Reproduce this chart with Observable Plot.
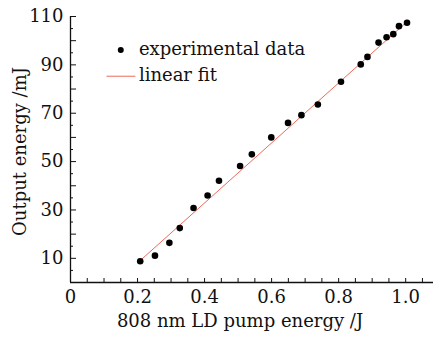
<!DOCTYPE html>
<html><head><meta charset="utf-8">
<script src="https://cdn.jsdelivr.net/npm/d3@7"></script>
<script src="https://cdn.jsdelivr.net/npm/@observablehq/plot@0.6"></script>
<style>
body{margin:0;background:#fff;}
svg{font-family:"DejaVu Serif",serif;}
</style></head><body><div id="c"></div>
<script>
const pumpEnergy = [0.208,0.252,0.295,0.326,0.367,0.409,0.443,0.506,0.541,0.599,0.649,0.689,0.738,0.807,0.866,0.886,0.919,0.943,0.963,0.980,1.004];
const outputEnergy = [8.8,11.1,16.4,22.5,30.8,36.0,42.1,48.2,53.0,60.0,66.0,69.2,73.6,83.0,90.2,93.3,99.2,101.4,102.7,106.0,107.4];
const fitX = [0.213, 1.007];
const fitY = [9.7, 108.2];
const xTickLabels = [0, 0.2, 0.4, 0.6, 0.8, 1.0];
const yTickLabels = [10, 30, 50, 70, 90, 110];
const seriesNames = ["experimental data", "linear fit"];

const pts = pumpEnergy.map((x,i)=>({x, y: outputEnergy[i]}));
const fit = fitX.map((x,i)=>({x, y: fitY[i]}));
const xMinor = d3.range(0, 1.081, 0.05);
const yMajor = d3.range(0, 111, 10);
const yMinor = d3.range(5, 111, 10);
const fontSize = 18;

const chart = Plot.plot({
  width: 443, height: 339,
  marginLeft: 70, marginRight: 10, marginTop: 16, marginBottom: 57,
  x: {domain: [0, 1.083], label: null},
  y: {domain: [0, 110], label: null},
  style: {fontFamily: "DejaVu Serif, serif", fontSize: fontSize+"px", color: "#111", background: "#fff"},
  marks: [
    Plot.ruleY([0], {stroke: "#111", strokeWidth: 1.3}),
    Plot.ruleX([0], {stroke: "#111", strokeWidth: 1.3}),
    Plot.axisX({ticks: xMinor, tickSize: -4, text: null, stroke: "#111", label: null}),
    Plot.axisX({ticks: xTickLabels, tickSize: 0, tickPadding: 8, tickFormat: d => d === 0 ? "0" : d3.format(".1f")(d), fontSize: fontSize, label: null}),
    Plot.axisY({ticks: yMajor, tickSize: -6, text: null, stroke: "#111", label: null}),
    Plot.axisY({ticks: yMinor, tickSize: -3, text: null, stroke: "#111", label: null}),
    Plot.axisY({ticks: yTickLabels, tickSize: 0, tickPadding: 7, fontSize: fontSize, label: null}),
    Plot.line(fit, {x: "x", y: "y", stroke: "#ee6a5a", strokeWidth: 1}),
    Plot.dot(pts, {x: "x", y: "y", r: 3.3, fill: "#000"}),
    // legend
    Plot.dot([seriesNames[0]], {x: 0.150, y: 96.1, r: 3, fill: "#000"}),
    Plot.ruleY([85.3], {x1: 0.109, x2: 0.195, stroke: "#ee6a5a", strokeWidth: 1}),
    Plot.text(seriesNames, {x: 0.204, y: (d,i)=> i===0 ? 96.6 : 85.8, text: d=>d, textAnchor: "start", fontSize: 18, fill: "#111"}),
    // axis titles
    Plot.text(["808 nm LD pump energy /J"], {frameAnchor: "bottom", dy: 44, dx: -12, text: d=>d, fontSize: 18, fill: "#111"}),
    Plot.text(["Output energy /mJ"], {frameAnchor: "left", textAnchor: "middle", dx: -50, dy: 2, rotate: -90, text: d=>d, fontSize: 18, fill: "#111"})
  ]
});
document.getElementById("c").appendChild(chart);
</script></body></html>
